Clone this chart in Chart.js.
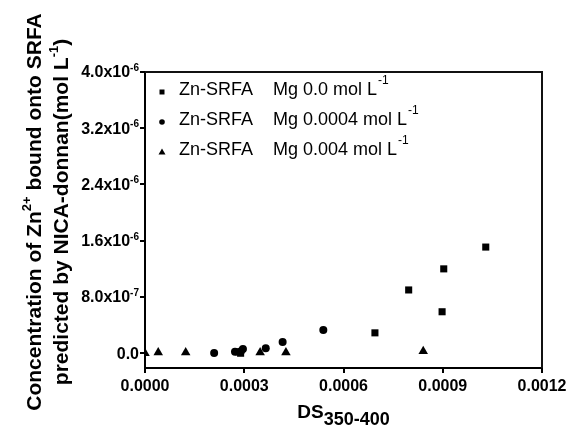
<!DOCTYPE html>
<html><head><meta charset="utf-8">
<script src="https://cdn.jsdelivr.net/npm/chart.js@4/dist/chart.umd.min.js"></script>
<style>html,body{margin:0;padding:0;background:#fff}canvas{display:block}</style>
</head><body>
<canvas id="c" width="568" height="433"></canvas>
<script>
// ---- data ----
const seriesNames = ["Zn-SRFA", "Zn-SRFA", "Zn-SRFA"];
const seriesConds = ["Mg 0.0 mol L", "Mg 0.0004 mol L", "Mg 0.004 mol L"];
const seriesUnitSup = ["-1", "-1", "-1"];
const seriesStyles = ["rect", "circle", "triangle"];

const mg0X = [0.000283, 0.000289, 0.000695, 0.000797, 0.000898, 0.000903, 0.001030];
const mg0Y = [0.02e-6, 0.0, 0.29e-6, 0.90e-6, 0.59e-6, 1.20e-6, 1.51e-6];

const mg0004X = [0.000209, 0.000272, 0.000290, 0.000296, 0.000365, 0.000416, 0.000539];
const mg0004Y = [0.005e-6, 0.02e-6, 0.03e-6, 0.06e-6, 0.07e-6, 0.16e-6, 0.33e-6];

const mg004X = [0.0, 0.000040, 0.000123, 0.000348, 0.000426, 0.000841];
const mg004Y = [0.0, 0.01e-6, 0.01e-6, 0.01e-6, 0.01e-6, 0.03e-6];

const xTicks = [0, 0.0003, 0.0006, 0.0009, 0.0012];
const xTickLabels = ["0.0000", "0.0003", "0.0006", "0.0009", "0.0012"];
const yTicks = [0, 8.0e-7, 1.6e-6, 2.4e-6, 3.2e-6, 4.0e-6];
const yTickMain = ["0.0", "8.0x10", "1.6x10", "2.4x10", "3.2x10", "4.0x10"];
const yTickSup = ["", "-7", "-6", "-6", "-6", "-6"];
const xMin = 0, xMax = 0.0012, yMin = -0.21e-6, yMax = 4.0e-6;

const yTitle1 = ["Concentration of Zn", "2+", " bound onto SRFA"];
const yTitle2 = ["predicted by NICA-donnan(mol L", "-1", ")"];
const xTitle = ["DS", "350-400"];

const FONT = "'Liberation Sans', Arial, sans-serif";

function pts(xs, ys) { return xs.map((x, i) => ({x: x, y: ys[i]})); }
const seriesData = [pts(mg0X, mg0Y), pts(mg0004X, mg0004Y), pts(mg004X, mg004Y)];
const radii = [5, 4, 5.5];

const datasets = seriesData.map((d, i) => ({
  label: seriesNames[i] + " " + seriesConds[i] + seriesUnitSup[i],
  data: d,
  pointStyle: seriesStyles[i],
  pointRadius: radii[i],
  pointHoverRadius: radii[i],
  backgroundColor: "#000",
  borderColor: "#000",
  borderWidth: 0,
  showLine: false
}));

const decor = {
  id: "decor",
  afterDraw(chart) {
    const ctx = chart.ctx, a = chart.chartArea;
    const ys = chart.scales.y;
    ctx.save();
    // frame top/right
    ctx.strokeStyle = "#111"; ctx.lineWidth = 2;
    ctx.beginPath();
    ctx.moveTo(a.left, a.top); ctx.lineTo(a.right, a.top); ctx.lineTo(a.right, a.bottom);
    ctx.stroke();

    ctx.fillStyle = "#000";
    // y tick labels
    yTicks.forEach((v, i) => {
      const y = ys.getPixelForValue(v);
      const rightX = 139;
      ctx.font = "bold 10px " + FONT;
      const sw = yTickSup[i] ? ctx.measureText(yTickSup[i]).width : 0;
      if (yTickSup[i]) {
        ctx.textAlign = "right"; ctx.textBaseline = "alphabetic";
        ctx.fillText(yTickSup[i], rightX, y - 1);
      }
      ctx.font = "bold 16px " + FONT;
      ctx.textAlign = "right"; ctx.textBaseline = "middle";
      ctx.fillText(yTickMain[i], rightX - sw, y + 1);
    });

    // legend
    ctx.textAlign = "left"; ctx.textBaseline = "middle";
    chart.data.datasets.forEach((ds, i) => {
      const cy = 90 + i * 30;
      const mx = 162, my = cy + 2;
      ctx.beginPath();
      if (seriesStyles[i] === "rect") ctx.rect(mx - 2.5, my - 2.5, 5, 5);
      else if (seriesStyles[i] === "circle") ctx.arc(mx, my, 2.8, 0, Math.PI * 2);
      else { ctx.moveTo(mx, my - 3.5); ctx.lineTo(mx + 3.5, my + 2.5); ctx.lineTo(mx - 3.5, my + 2.5); ctx.closePath(); }
      ctx.fill();
      ctx.font = "18px " + FONT;
      ctx.fillText(seriesNames[i], 179, cy);
      ctx.fillText(seriesConds[i], 273, cy);
      const w = ctx.measureText(seriesConds[i]).width;
      ctx.font = "12px " + FONT;
      ctx.fillText(seriesUnitSup[i], 273 + w + 1, cy - 9);
    });

    // x title
    ctx.font = "bold 19px " + FONT;
    const w1 = ctx.measureText(xTitle[0]).width;
    ctx.font = "bold 18px " + FONT;
    const w2 = ctx.measureText(xTitle[1]).width;
    const cx = (a.left + a.right) / 2;
    let sx = cx - (w1 + w2) / 2;
    ctx.textAlign = "left"; ctx.textBaseline = "alphabetic";
    ctx.font = "bold 19px " + FONT;
    ctx.fillText(xTitle[0], sx, 418);
    ctx.font = "bold 18px " + FONT;
    ctx.fillText(xTitle[1], sx + w1, 425);

    // y title (rotated)
    function rotLine(parts, baseX, cyy, size) {
      ctx.save();
      ctx.translate(baseX, cyy);
      ctx.rotate(-Math.PI / 2);
      ctx.textBaseline = "alphabetic"; ctx.textAlign = "left";
      const big = "bold " + size + "px " + FONT, small = "bold " + Math.round(size * 0.62) + "px " + FONT;
      ctx.font = big; const a0 = ctx.measureText(parts[0]).width, a2 = ctx.measureText(parts[2]).width;
      ctx.font = small; const a1 = ctx.measureText(parts[1]).width;
      let x = -(a0 + a1 + a2) / 2;
      ctx.font = big; ctx.fillText(parts[0], x, 0); x += a0;
      ctx.font = small; ctx.fillText(parts[1], x, -size * 0.5); x += a1;
      ctx.font = big; ctx.fillText(parts[2], x, 0);
      ctx.restore();
    }
    rotLine(yTitle1, 41, 212, 21);
    rotLine(yTitle2, 68, 212, 21);
    ctx.restore();
  }
};

new Chart(document.getElementById("c"), {
  type: "scatter",
  data: { datasets: datasets },
  options: {
    responsive: false,
    animation: false,
    devicePixelRatio: 1,
    layout: { padding: { top: 72, right: 26, left: 0, bottom: 0 } },
    plugins: { legend: { display: false }, title: { display: false }, tooltip: { enabled: false } },
    scales: {
      x: {
        type: "linear", min: xMin, max: xMax,
        afterBuildTicks: s => { s.ticks = xTicks.map(v => ({ value: v })); },
        afterFit: s => { s.height = 65; s.paddingLeft = 0; s.paddingRight = 0; },
        ticks: {
          callback: (v, i) => xTickLabels[i],
          color: "#000", font: { family: FONT, size: 16, weight: "bold" }, padding: 4, maxRotation: 0
        },
        grid: { display: true, drawOnChartArea: false, drawTicks: true, tickLength: 5, color: "#000", lineWidth: 2 },
        border: { display: true, color: "#000", width: 2 }
      },
      y: {
        type: "linear", min: yMin, max: yMax,
        afterBuildTicks: s => { s.ticks = yTicks.map(v => ({ value: v })); },
        afterFit: s => { s.width = 145; s.paddingTop = 0; s.paddingBottom = 0; },
        ticks: { display: false },
        grid: { display: true, drawOnChartArea: false, drawTicks: true, tickLength: 5, color: "#000", lineWidth: 2 },
        border: { display: true, color: "#000", width: 2 }
      }
    }
  },
  plugins: [decor]
});
</script>
</body></html>
